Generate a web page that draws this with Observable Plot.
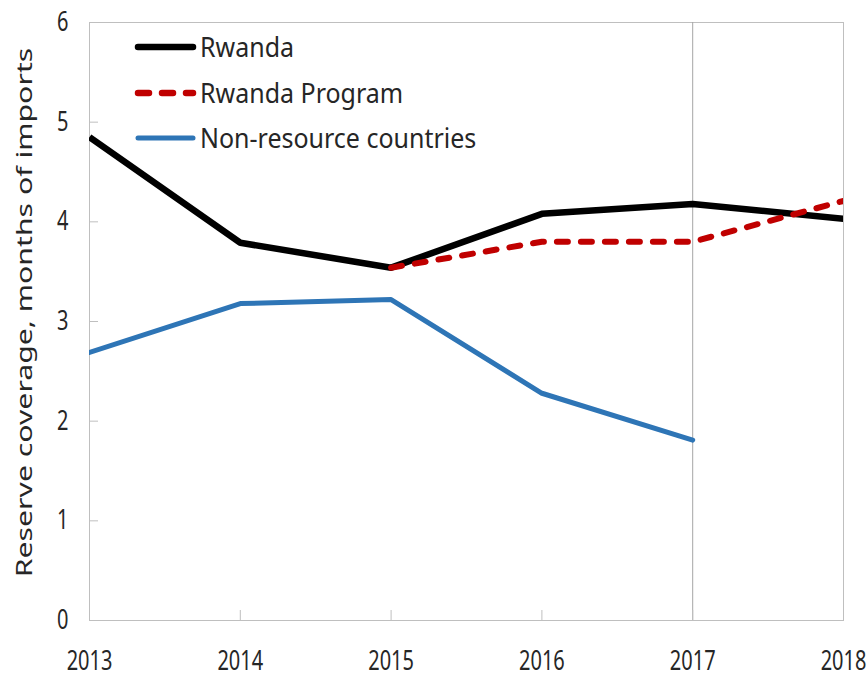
<!DOCTYPE html>
<html><head><meta charset="utf-8">
<script src="https://cdn.jsdelivr.net/npm/d3@7"></script>
<script src="https://cdn.jsdelivr.net/npm/@observablehq/plot@0.6"></script>
<style>
body{margin:0;background:#fff;}
#chart{position:relative;width:868px;height:680px;}
</style></head><body><div id="chart"></div>
<script>
const years = [2013, 2014, 2015, 2016, 2017, 2018];
const rwanda = [4.85, 3.79, 3.54, 4.08, 4.18, 4.03];
const programYears = [2015, 2016, 2017, 2018];
const rwandaProgram = [3.54, 3.80, 3.80, 4.21];
const nonResourceYears = [2013, 2014, 2015, 2016, 2017];
const nonResource = [2.69, 3.18, 3.22, 2.28, 1.81];
const yTicks = [0, 1, 2, 3, 4, 5, 6];
const markerYear = [2017];
const seriesNames = ["Rwanda", "Rwanda Program", "Non-resource countries"];
const seriesColors = ["#000000", "#c00000", "#2e75b6"];
const yLabel = "Reserve coverage, months of imports";

const rwandaData = years.map((year, i) => ({year, value: rwanda[i]}));
const programData = programYears.map((year, i) => ({year, value: rwandaProgram[i]}));
const nonResData = nonResourceYears.map((year, i) => ({year, value: nonResource[i]}));

const font = "'Noto Sans', sans-serif";
const textColor = "#262626";
const gridGray = "#bfbfbf";

const plot = Plot.plot({
  width: 868, height: 680,
  marginLeft: 89, marginRight: 25, marginTop: 22, marginBottom: 60,
  style: {fontFamily: font, fontSize: "20px", color: textColor, background: "#fff", overflow: "visible"},
  x: {domain: [years[0], years[years.length - 1]]},
  y: {domain: [yTicks[0], yTicks[yTicks.length - 1]]},
  marks: [
    Plot.frame({stroke: gridGray}),
    Plot.ruleX(markerYear, {stroke: "#a6a6a6", strokeWidth: 1}),
    Plot.axisX({ticks: years, tickFormat: d => String(d), tickSize: -10, tickPadding: 41, label: null}),
    Plot.axisY({ticks: yTicks, tickFormat: d => String(d), tickSize: -9, tickPadding: 30, label: null}),
    Plot.text([yLabel], {text: d => d, frameAnchor: "left", textAnchor: "middle", rotate: -90, dx: -64, dy: -9, fontSize: 21, fill: textColor}),
    Plot.line(nonResData, {x: "year", y: "value", stroke: seriesColors[2], strokeWidth: 5, strokeLinecap: "round", strokeLinejoin: "round", clip: "frame"}),
    Plot.line(rwandaData, {x: "year", y: "value", stroke: seriesColors[0], strokeWidth: 6.5, strokeLinecap: "butt", strokeLinejoin: "round", clip: "frame"}),
    Plot.line(programData, {x: "year", y: "value", stroke: seriesColors[1], strokeWidth: 6, strokeDasharray: "11,13", strokeLinecap: "round", strokeLinejoin: "round", clip: "frame"})
  ]
});

const svg = d3.select(plot);
// tick colors
svg.selectAll("g[aria-label='x-axis tick'], g[aria-label='y-axis tick']").attr("stroke", gridGray);
svg.selectAll("g[aria-label='x-axis tick'] *, g[aria-label='y-axis tick'] *").each(function() {
  if (this.getAttribute("stroke")) this.setAttribute("stroke", gridGray);
});
// stretch tick labels vertically to match reference typography
svg.selectAll("g[aria-label='x-axis tick label'] text, g[aria-label='y-axis tick label'] text").each(function() {
  const tr = this.getAttribute("transform") || "";
  this.setAttribute("transform", tr + " scale(1,1.33)");
});
svg.selectAll("g[aria-label='text'] text").each(function() {
  if (this.textContent === yLabel) {
    const tr = this.getAttribute("transform") || "";
    this.setAttribute("transform", tr + " scale(1.44,1)");
  }
});

// legend inside the plot area
const legendY = [47, 93, 138];
const lg = svg.append("g").attr("aria-label", "legend").attr("text-anchor", "start");
seriesNames.forEach((name, i) => {
  const row = lg.append("g").attr("transform", `translate(138,${legendY[i]})`);
  row.append("line").attr("x1", 0).attr("x2", 55).attr("y1", 0).attr("y2", 0)
    .attr("stroke", seriesColors[i]).attr("stroke-width", i === 2 ? 5 : 6.5)
    .attr("stroke-linecap", "round")
    .attr("stroke-dasharray", i === 1 ? "11,13" : null);
  row.append("text").attr("transform", "translate(62,0) scale(1,1.12)")
    .attr("dy", "0.35em").attr("fill", textColor).attr("text-anchor", "start")
    .style("font-family", font).style("font-size", "25px").text(name);
});

document.getElementById("chart").appendChild(plot);
</script></body></html>
